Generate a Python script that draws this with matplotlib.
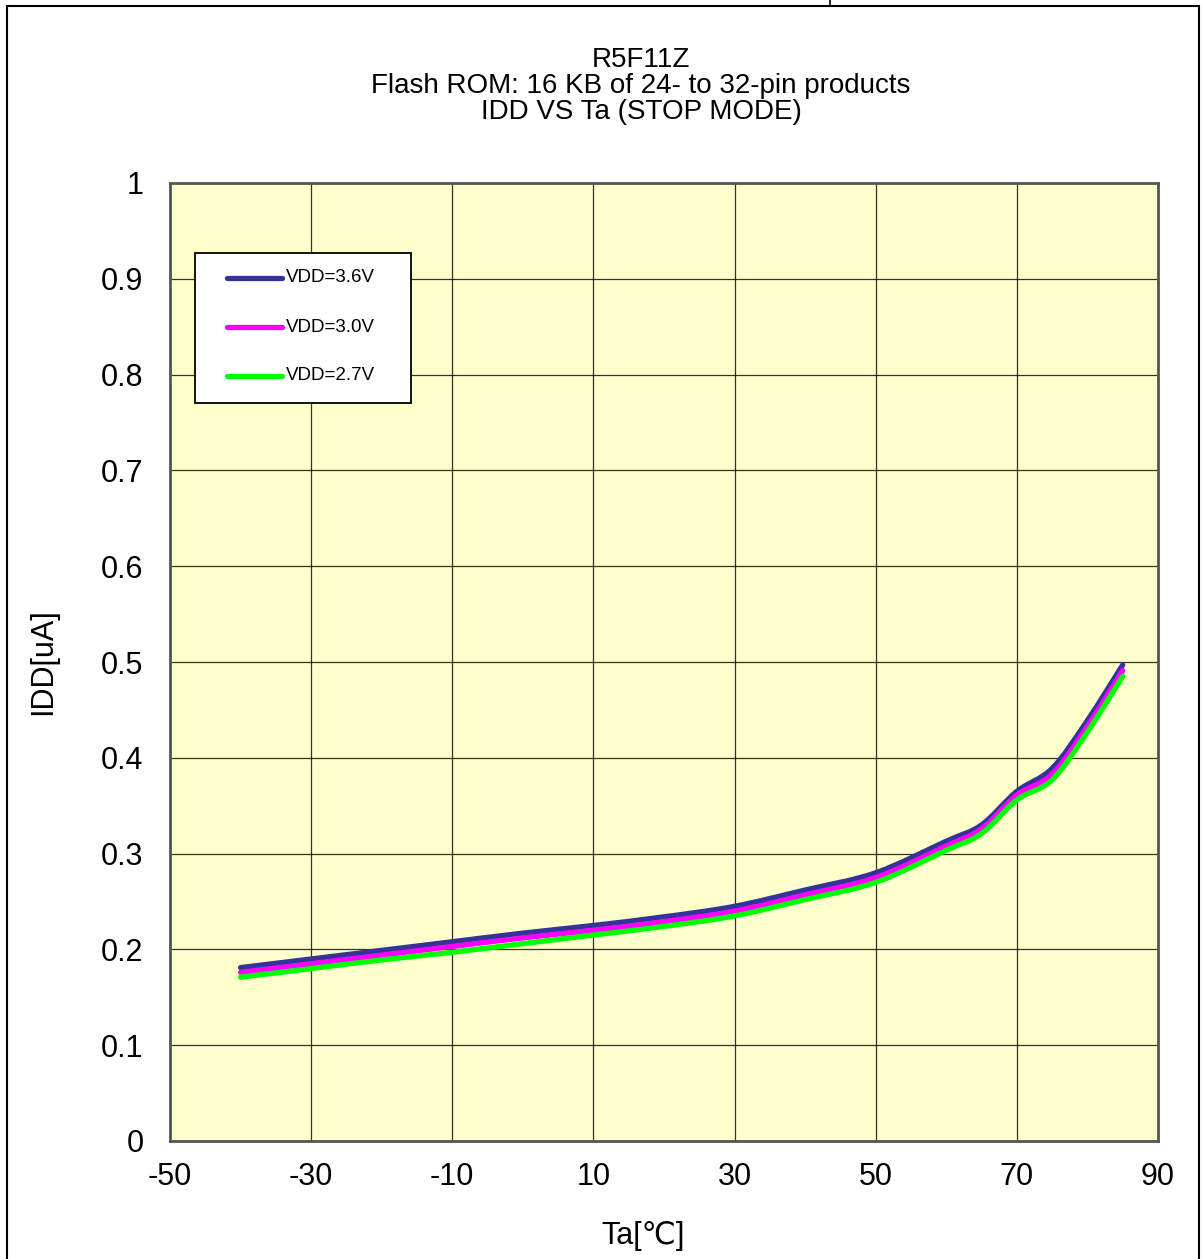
import matplotlib
matplotlib.use("Agg")
import matplotlib.pyplot as plt
from matplotlib.patches import Rectangle, PathPatch
from matplotlib.lines import Line2D
from matplotlib.path import Path

plt.rcParams['font.family'] = ['Liberation Sans', 'DejaVu Sans']

temps = [-40, -30, -20, -10, 0, 10, 20, 30, 40, 50, 60, 65, 70, 75, 80, 85]
idd_36 = [0.181, 0.190, 0.199, 0.208, 0.217, 0.225, 0.234, 0.245, 0.262, 0.280, 0.313, 0.330, 0.365, 0.389, 0.439, 0.497]
idd_30 = [0.176, 0.185, 0.194, 0.203, 0.212, 0.220, 0.229, 0.240, 0.257, 0.275, 0.308, 0.326, 0.361, 0.383, 0.433, 0.491]
idd_27 = [0.171, 0.180, 0.189, 0.197, 0.206, 0.215, 0.224, 0.235, 0.252, 0.270, 0.3035, 0.321, 0.356, 0.377, 0.427, 0.485]
labels = ["VDD=3.6V", "VDD=3.0V", "VDD=2.7V"]
colors = ["#333399", "#FF00FF", "#00FF00"]
values = [idd_36, idd_30, idd_27]

xticks = [-50, -30, -10, 10, 30, 50, 70, 90]
yticks = [0, 0.1, 0.2, 0.3, 0.4, 0.5, 0.6, 0.7, 0.8, 0.9, 1]
ytick_labels = ["0", "0.1", "0.2", "0.3", "0.4", "0.5", "0.6", "0.7", "0.8", "0.9", "1"]


def smooth_path(xs, ys):
    """Catmull-Rom style smoothed path (like a spreadsheet's smoothed line)."""
    pts = list(zip(xs, ys))
    verts = [pts[0]]
    codes = [Path.MOVETO]
    n = len(pts)
    for i in range(n - 1):
        p0 = pts[i - 1] if i > 0 else pts[i]
        p1 = pts[i]
        p2 = pts[i + 1]
        p3 = pts[i + 2] if i + 2 < n else pts[i + 1]
        c1 = (p1[0] + (p2[0] - p0[0]) / 6, p1[1] + (p2[1] - p0[1]) / 6)
        c2 = (p2[0] - (p3[0] - p1[0]) / 6, p2[1] - (p3[1] - p1[1]) / 6)
        verts += [c1, c2, p2]
        codes += [Path.CURVE4] * 3
    return Path(verts, codes)


W, H = 1202, 1259
fig = plt.figure(figsize=(W / 100, H / 100), dpi=100)
fig.patch.set_facecolor("white")

# outer frame
fig.add_artist(Rectangle((7 / W, -0.01), (1199 - 7) / W, (H - 6) / H + 0.01,
                         transform=fig.transFigure, fill=False,
                         edgecolor="black", linewidth=1.5))
fig.add_artist(Line2D([830 / W, 830 / W], [1, (H - 6) / H], transform=fig.transFigure,
                      color="black", linewidth=1.2))

AX_L, AX_R, AX_T, AX_B = 170, 1158, 183, 1141
ax = fig.add_axes([AX_L / W, (H - AX_B) / H, (AX_R - AX_L) / W, (AX_B - AX_T) / H])
ax.set_facecolor("#FFFFCC")
for vals, col in zip(values, colors):
    ax.add_patch(PathPatch(smooth_path(temps, vals), facecolor="none", edgecolor=col,
                           linewidth=3.8, capstyle="round", joinstyle="round", zorder=3))

ax.set_xlim(-50, 90)
ax.set_ylim(0, 1)
ax.set_xticks(xticks)
ax.set_xticklabels([str(t) for t in xticks])
ax.set_yticks(yticks)
ax.set_yticklabels(ytick_labels)
ax.tick_params(axis="x", length=0, labelsize=22, pad=15)
ax.tick_params(axis="y", length=0, labelsize=22, pad=19)
ax.grid(True, color="black", linewidth=0.9, alpha=0.8)
ax.set_axisbelow(True)
for s in ax.spines.values():
    s.set_color("#555555")
    s.set_linewidth(2)

ax.set_xlabel("Ta[℃]", fontsize=22)
ax.xaxis.set_label_coords((643 - AX_L) / (AX_R - AX_L), (AX_B - 1221) / (AX_B - AX_T))
ax.set_ylabel("IDD[uA]", fontsize=22)
ax.yaxis.set_label_coords((58 - AX_L) / (AX_R - AX_L), 0.5)

fig.text(641 / W, 1 - 67 / H, "R5F11Z", ha="center", va="baseline", fontsize=20)
fig.text(641 / W, 1 - 93 / H, "Flash ROM: 16 KB of 24- to 32-pin products", ha="center", va="baseline", fontsize=20)
fig.text(641 / W, 1 - 119 / H, "IDD VS Ta (STOP MODE)", ha="center", va="baseline", fontsize=20)


# legend box, drawn in axes coordinates converted from the layout pixels
def axc(px, py):
    return ((px - AX_L) / (AX_R - AX_L), (AX_B - py) / (AX_B - AX_T))


lx0, ly0 = axc(195, 403)
lx1, ly1 = axc(411, 253)
ax.add_patch(Rectangle((lx0, ly0), lx1 - lx0, ly1 - ly0, transform=ax.transAxes,
                       facecolor="white", edgecolor="black", linewidth=1.3, zorder=5))
entry_y = [278, 327, 376]
for lab, col, ey in zip(labels, colors, entry_y):
    (hx0, hy), (hx1, _) = axc(227, ey), axc(282, ey)
    ax.add_line(Line2D([hx0, hx1], [hy, hy], transform=ax.transAxes, color=col,
                       linewidth=3.8, solid_capstyle="round", zorder=6))
    tx, ty = axc(286, ey)
    ax.text(tx, ty, lab, transform=ax.transAxes, fontsize=13.5, ha="left", va="center", zorder=6)

fig.savefig("out.png", dpi=100)
